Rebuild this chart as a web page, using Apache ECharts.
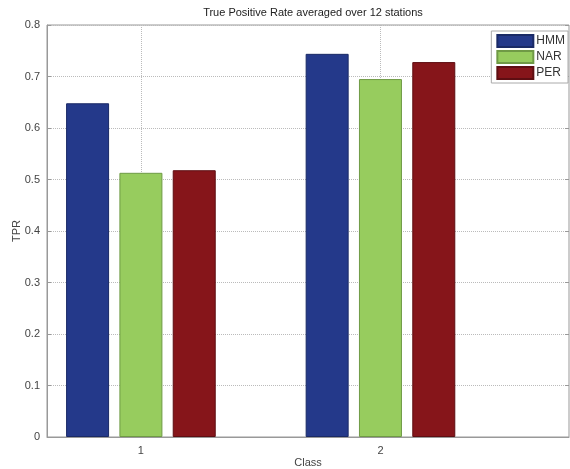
<!DOCTYPE html>
<html>
<head>
<meta charset="utf-8">
<script src="https://cdn.jsdelivr.net/npm/echarts@6/dist/echarts.min.js"></script>
<style>
  html, body { margin: 0; padding: 0; background: #fff; }
  #main { width: 570px; height: 469px; }
</style>
</head>
<body>
<div id="main"></div>
<script>
// data
const classes = [1, 2];
const seriesNames = ["HMM", "NAR", "PER"];
const hmm = [0.648, 0.744];
const nar = [0.513, 0.695];
const per = [0.518, 0.728];

const colors = ["#24398a", "#97cc5e", "#86151a"];
const borders = ["#1a2a66", "#6f9a45", "#5e0e12"];
const values = [hmm, nar, per];

const textColor = "#444";
const font = "Liberation Sans, Arial, sans-serif";

const handleSeries = () =>
  seriesNames.map((name, i) => ({
    name,
    type: "bar",
    barWidth: 43,
    barGap: "24%",
    data: classes.map((c, j) => [c, values[i][j]]),
    itemStyle: { color: colors[i], borderColor: borders[i], borderWidth: 1 },
  }));

const chart = echarts.init(document.getElementById("main"));
chart.setOption({
  animation: false,
  textStyle: { fontFamily: font },
  title: {
    text: "True Positive Rate averaged over 12 stations",
    left: 308,
    textAlign: "center",
    top: 2,
    textStyle: { fontSize: 11, fontWeight: "normal", color: "#222", fontFamily: font },
  },
  legend: {
    right: 2,
    top: 31,
    orient: "vertical",
    itemWidth: 36,
    itemHeight: 12,
    itemGap: 2,
    padding: [3, 3, 3, 5],
    borderColor: "#aaa",
    borderWidth: 1,
    backgroundColor: "#fff",
    icon: "rect",
    textStyle: { fontSize: 12, color: "#333", fontFamily: font, padding: [0, 0, 0, -2] },
    data: seriesNames,
  },
  grid: {
    left: 47,
    right: 1,
    top: 25,
    bottom: 32,
    containLabel: false,
    outerBoundsMode: "none",
    show: true,
    borderColor: "#999",
    borderWidth: 1,
  },
  xAxis: {
    type: "value",
    min: 0.608,
    max: 2.787,
    name: "Class",
    nameLocation: "middle",
    nameGap: 20,
    nameMoveOverlap: false,
    nameTextStyle: { fontSize: 11, color: textColor },
    axisLine: { lineStyle: { color: "#999" } },
    axisTick: { inside: true, length: 4, customValues: classes, lineStyle: { color: "#999" } },
    axisLabel: { customValues: classes, fontSize: 11, color: textColor, margin: 8 },
    splitLine: { show: true, lineStyle: { type: "dotted", color: "#bbb" } },
  },
  yAxis: [
    {
      type: "value",
      min: 0,
      max: 0.8,
      interval: 0.1,
      name: "TPR",
      nameLocation: "middle",
      nameGap: 25,
      nameMoveOverlap: false,
      nameTextStyle: { fontSize: 11, color: textColor },
      axisLine: { show: true, lineStyle: { color: "#999" } },
      axisTick: { show: true, inside: true, length: 4, lineStyle: { color: "#999" } },
      axisLabel: { fontSize: 11, color: textColor, margin: 7, formatter: (v) => String(+v.toFixed(1)) },
      splitLine: { show: true, lineStyle: { type: "dotted", color: "#bbb" } },
    },
    {
      type: "value",
      min: 0,
      max: 0.8,
      interval: 0.1,
      position: "right",
      axisLine: { show: false },
      axisTick: { show: true, inside: true, length: 4, lineStyle: { color: "#999" } },
      axisLabel: { show: false },
      splitLine: { show: false },
    },
  ],
  series: handleSeries(),
});
</script>
</body>
</html>
